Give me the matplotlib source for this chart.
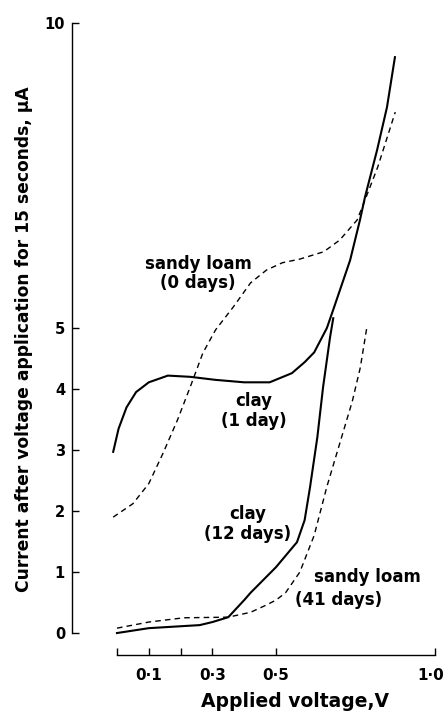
import matplotlib
matplotlib.use("Agg")
import matplotlib.pyplot as plt
from matplotlib.transforms import ScaledTranslation

# applied voltage (V) and current after 15 s (uA)
clay_1d_v = [-0.012, 0.005, 0.03, 0.06, 0.10, 0.16, 0.23, 0.31, 0.40, 0.48, 0.55,
             0.59, 0.62, 0.66, 0.68, 0.733, 0.764, 0.78, 0.818, 0.849, 0.874]
clay_1d_i = [2.97, 3.35, 3.70, 3.95, 4.11, 4.22, 4.20, 4.15, 4.11, 4.11, 4.26,
             4.44, 4.60, 5.00, 5.30, 6.11, 6.77, 7.15, 7.92, 8.62, 9.44]

clay_12d_v = [0.0, 0.10, 0.26, 0.30, 0.35, 0.40, 0.42, 0.50, 0.566, 0.59,
              0.607, 0.63, 0.648, 0.67, 0.68]
clay_12d_i = [0.0, 0.08, 0.13, 0.18, 0.26, 0.54, 0.66, 1.08, 1.49, 1.85,
              2.39, 3.21, 4.03, 4.85, 5.16]

loam_0d_v = [-0.012, 0.05, 0.10, 0.145, 0.19, 0.23, 0.27, 0.31, 0.365, 0.42,
             0.47, 0.52, 0.575, 0.65, 0.70, 0.755, 0.78, 0.82, 0.85, 0.875]
loam_0d_i = [1.90, 2.12, 2.45, 2.95, 3.49, 4.03, 4.59, 4.97, 5.34, 5.74,
             5.95, 6.07, 6.13, 6.25, 6.44, 6.77, 7.10, 7.64, 8.13, 8.54]

loam_41d_v = [0.0, 0.10, 0.21, 0.35, 0.42, 0.47, 0.50, 0.53, 0.575, 0.62,
              0.66, 0.70, 0.74, 0.765, 0.786]
loam_41d_i = [0.08, 0.18, 0.25, 0.26, 0.34, 0.46, 0.54, 0.66, 1.00, 1.60,
              2.40, 3.10, 3.80, 4.35, 5.02]

x_ticks = [0.0, 0.1, 0.2, 0.3, 0.5, 1.0]
x_labels = ["", "0·1", "", "0·3", "0·5", "1·0"]
y_ticks = [0, 1, 2, 3, 4, 5, 10]

plt.rcParams['font.family'] = ['DejaVu Sans']
plt.rcParams['font.weight'] = 'bold'

fig = plt.figure(figsize=(4.47, 7.14), dpi=100)
ax = fig.add_axes([72 / 447, 59 / 714, 363 / 447, 632 / 714])

ax.plot(clay_1d_v, clay_1d_i, color='black', lw=1.5)
ax.plot(clay_12d_v, clay_12d_i, color='black', lw=1.5)
ax.plot(loam_0d_v, loam_0d_i, color='black', lw=1.0, ls=(0, (4, 3)))
ax.plot(loam_41d_v, loam_41d_i, color='black', lw=1.0, ls=(0, (4, 3)))

txt = dict(fontsize=12, fontweight='bold', ha='center', va='center',
           linespacing=1.1)
ax.text(0.255, 5.89, "sandy loam\n(0 days)", **txt)
ax.text(0.43, 3.64, "clay\n(1 day)", **txt)
ax.text(0.41, 1.79, "clay\n(12 days)", **txt)
ax.text(0.786, 0.92, "sandy loam", **txt)
ax.text(0.698, 0.54, "(41 days)", **txt)

ax.set_xlim(-0.1415, 1.0)
ax.set_ylim(-0.36, 10.0)

for s in ['top', 'right']:
    ax.spines[s].set_visible(False)
ax.spines['left'].set_bounds(0, 10)
ax.spines['bottom'].set_bounds(0, 1.0)
ax.spines['left'].set_linewidth(1.0)
ax.spines['bottom'].set_linewidth(1.0)

ax.set_xticks(x_ticks)
ax.set_xticklabels(x_labels)
ax.set_yticks(y_ticks)
ax.tick_params(direction='in', length=5, width=1.0)
ax.tick_params(axis='x', pad=9, labelsize=11)
ax.tick_params(axis='y', pad=5, labelsize=10.5)
for lab in ax.get_xticklabels() + ax.get_yticklabels():
    lab.set_fontweight('bold')
last = ax.get_xticklabels()[-1]
last.set_transform(last.get_transform() + ScaledTranslation(-4 / 100, 0, fig.dpi_scale_trans))

ax.set_xlabel("Applied voltage,V", fontsize=13.5, fontweight='bold')
ax.xaxis.set_label_coords(0.614, -0.058)
ax.set_ylabel("Current after voltage application for 15 seconds, μA",
              fontsize=12.3, fontweight='bold', labelpad=8)

fig.savefig("out.png", dpi=100)
